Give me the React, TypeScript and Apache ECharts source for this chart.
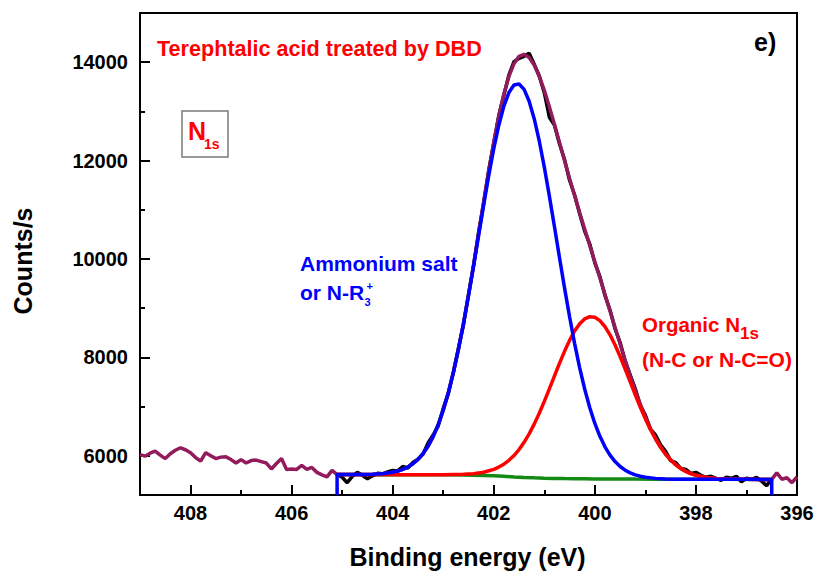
import { useEffect, useRef } from "react";
import * as echarts from "echarts";

// Tick values
const xMajorTicks = [396, 398, 400, 402, 404, 406, 408];
const xMinorTicks = [397, 399, 401, 403, 405, 407];
const yMajorTicks = [6000, 8000, 10000, 12000, 14000];
const yMinorTicks = [7000, 9000, 11000, 13000];

// Survey data outside the fitting window (wine coloured)
const surveyLeft: [number, number][] = [
  [409.0, 6020], [408.9, 5990], [408.8, 6050], [408.7, 6090], [408.6, 6010], [408.5, 5940],
  [408.4, 6040], [408.3, 6110], [408.2, 6160], [408.1, 6120], [408.0, 6060], [407.9, 5960],
  [407.8, 5890], [407.7, 6060], [407.6, 6000], [407.5, 5940], [407.4, 5970], [407.3, 5980],
  [407.2, 5920], [407.1, 5850], [407.0, 5920], [406.9, 5850], [406.8, 5900], [406.7, 5910],
  [406.6, 5880], [406.5, 5850], [406.4, 5730], [406.3, 5840], [406.2, 5940], [406.1, 5720],
  [406.0, 5730], [405.9, 5720], [405.8, 5800], [405.7, 5720], [405.6, 5760], [405.5, 5660],
  [405.4, 5610], [405.3, 5570], [405.2, 5700],
];
const surveyRight: [number, number][] = [
  [396.4, 5650], [396.3, 5520], [396.2, 5550], [396.1, 5450], [396.0, 5570],
];

// Cumulative fit envelope
const envelope: [number, number][] = [
  [405.1, 5615], [404.8, 5616], [404.6, 5617], [404.4, 5622], [404.2, 5634], [404.0, 5663],
  [403.9, 5687], [403.8, 5721], [403.7, 5769], [403.6, 5835], [403.5, 5924], [403.4, 6042],
  [403.3, 6193], [403.2, 6387], [403.1, 6629], [403.0, 6925], [402.9, 7277], [402.8, 7689],
  [402.7, 8162], [402.6, 8690], [402.5, 9266], [402.4, 9880], [402.3, 10517], [402.2, 11157],
  [402.1, 11783], [402.0, 12371], [401.9, 12901], [401.8, 13353], [401.7, 13714], [401.6, 13970],
  [401.5, 14119], [401.4, 14159], [401.3, 14097], [401.2, 13944], [401.1, 13715], [401.0, 13427],
  [400.9, 13096], [400.8, 12739], [400.7, 12370], [400.6, 12000], [400.5, 11637], [400.4, 11282],
  [400.3, 10938], [400.2, 10602], [400.1, 10270], [400.0, 9941], [399.9, 9611], [399.8, 9278],
  [399.7, 8942], [399.6, 8604], [399.5, 8270], [399.4, 7941], [399.3, 7624], [399.2, 7322],
  [399.1, 7041], [399.0, 6785], [398.9, 6555], [398.8, 6355], [398.7, 6181], [398.6, 6035],
  [398.5, 5915], [398.4, 5817], [398.3, 5740], [398.2, 5680], [398.1, 5635], [398.0, 5600],
  [397.8, 5557], [397.6, 5536], [397.4, 5525], [397.0, 5518], [396.5, 5517],
];

// Raw measured counts in the fitting window (black)
const rawCounts: [number, number][] = [
  [405.1, 5620], [405.0, 5560], [404.9, 5450], [404.8, 5580], [404.7, 5660], [404.6, 5600],
  [404.5, 5530], [404.4, 5590], [404.3, 5640], [404.2, 5630], [404.1, 5670], [404.0, 5700],
  [403.9, 5690], [403.8, 5780], [403.7, 5750], [403.6, 5860], [403.5, 5930], [403.4, 6030],
  [403.3, 6260], [403.2, 6420], [403.1, 6600], [403.0, 6960], [402.9, 7260], [402.8, 7700],
  [402.7, 8180], [402.6, 8660], [402.5, 9280], [402.4, 9860], [402.3, 10540], [402.2, 11140],
  [402.1, 11800], [402.0, 12360], [401.9, 12920], [401.8, 13330], [401.7, 13740], [401.6, 14010],
  [401.5, 14080], [401.4, 14120], [401.3, 14180], [401.2, 13960], [401.1, 13720], [401.0, 13380],
  [400.9, 12880], [400.8, 12720], [400.7, 12340], [400.6, 12020], [400.5, 11600], [400.4, 11300],
  [400.3, 10920], [400.2, 10560], [400.1, 10300], [400.0, 9920], [399.9, 9640], [399.8, 9260],
  [399.7, 8960], [399.6, 8580], [399.5, 8300], [399.4, 7920], [399.3, 7640], [399.2, 7360],
  [399.1, 7020], [399.0, 6820], [398.9, 6540], [398.8, 6420], [398.7, 6220], [398.6, 6090],
  [398.5, 5900], [398.4, 5860], [398.3, 5740], [398.2, 5720], [398.1, 5640], [398.0, 5660],
  [397.9, 5600], [397.8, 5560], [397.7, 5580], [397.6, 5540], [397.5, 5500], [397.4, 5560],
  [397.3, 5540], [397.2, 5580], [397.1, 5470], [397.0, 5540], [396.9, 5520], [396.8, 5560],
  [396.7, 5480], [396.6, 5390], [396.5, 5530],
];

// Ammonium salt component (blue), with drop lines at window ends
const ammoniumFit: [number, number][] = [
  [405.1, 5200], [405.1, 5615], [404.8, 5616], [404.6, 5617], [404.4, 5622], [404.2, 5634],
  [404.0, 5663], [403.9, 5687], [403.8, 5721], [403.7, 5769], [403.6, 5835], [403.5, 5924],
  [403.4, 6042], [403.3, 6193], [403.2, 6387], [403.1, 6628], [403.0, 6924], [402.9, 7274],
  [402.8, 7684], [402.7, 8154], [402.6, 8677], [402.5, 9246], [402.4, 9850], [402.3, 10472],
  [402.2, 11092], [402.1, 11690], [402.0, 12240], [401.9, 12719], [401.8, 13106], [401.7, 13383],
  [401.6, 13535], [401.5, 13557], [401.4, 13446], [401.3, 13207], [401.2, 12852], [401.1, 12398],
  [401.0, 11866], [400.9, 11278], [400.8, 10659], [400.7, 10030], [400.6, 9412], [400.5, 8825],
  [400.4, 8279], [400.3, 7786], [400.2, 7350], [400.1, 6973], [400.0, 6655], [399.9, 6393],
  [399.8, 6180], [399.7, 6011], [399.6, 5879], [399.5, 5779], [399.4, 5704], [399.3, 5649],
  [399.2, 5608], [399.1, 5580], [399.0, 5560], [398.8, 5538], [398.6, 5527], [398.4, 5522],
  [398.0, 5519], [397.6, 5519], [397.0, 5518], [396.5, 5517], [396.5, 5200],
];

// Organic N1s component (red)
const organicFit: [number, number][] = [
  [405.1, 5615], [404.0, 5614], [403.0, 5612], [402.6, 5621], [402.4, 5634], [402.2, 5663],
  [402.0, 5721], [401.9, 5767], [401.8, 5827], [401.7, 5905], [401.6, 6003], [401.5, 6125],
  [401.4, 6271], [401.3, 6443], [401.2, 6641], [401.1, 6862], [401.0, 7103], [400.9, 7357],
  [400.8, 7617], [400.7, 7875], [400.6, 8121], [400.5, 8344], [400.4, 8534], [400.3, 8682],
  [400.2, 8781], [400.1, 8825], [400.0, 8813], [399.9, 8745], [399.8, 8624], [399.7, 8457],
  [399.6, 8250], [399.5, 8016], [399.4, 7761], [399.3, 7499], [399.2, 7237], [399.1, 6984],
  [399.0, 6747], [398.9, 6531], [398.8, 6339], [398.7, 6171], [398.6, 6029], [398.5, 5911],
  [398.4, 5815], [398.3, 5739], [398.2, 5680], [398.1, 5635], [398.0, 5600], [397.8, 5557],
  [397.6, 5536], [397.4, 5525], [397.0, 5518], [396.5, 5517],
];

// Background (green)
const background: [number, number][] = [
  [405.1, 5615], [404.0, 5614], [403.0, 5612], [402.6, 5608], [402.4, 5604], [402.2, 5598],
  [402.0, 5590], [401.8, 5580], [401.6, 5568], [401.4, 5558], [401.2, 5549], [401.0, 5542],
  [400.8, 5537], [400.6, 5533], [400.4, 5531], [400.2, 5529], [400.0, 5527], [399.6, 5525],
  [399.2, 5523], [398.8, 5522], [398.4, 5520], [398.0, 5519], [397.4, 5518], [396.5, 5517],
];

const FONT = '"Liberation Sans", Arial, Helvetica, sans-serif';
const WINE = "#931a5b";

function txt(text: string, x: number, y: number, size: number, color: string, extra: any = {}) {
  return {
    type: "text",
    x,
    y,
    z: 100,
    ...extra,
    style: {
      text,
      fill: color,
      fontSize: size,
      fontWeight: "bold",
      fontFamily: FONT,
      align: extra.align || "left",
      verticalAlign: "middle",
    },
  };
}

export default function App() {
  const ref = useRef<HTMLDivElement>(null);
  useEffect(() => {
    const chart = echarts.init(ref.current!, null, { renderer: "svg" });
    const labelStyle = { fontSize: 20, fontWeight: "bold", color: "#000", fontFamily: FONT };
    const line = (data: any, color: string, z: number) => ({
      type: "line",
      data,
      showSymbol: false,
      symbol: "none",
      z,
      lineStyle: { color, width: 3.5 },
      itemStyle: { color },
      clip: true,
    });
    chart.setOption({
      animation: false,
      grid: {
        left: 140, right: 22, top: 13, bottom: 76,
        show: true, borderColor: "#000", borderWidth: 2,
        containLabel: false, outerBoundsMode: "none",
      },
      xAxis: [
        {
          type: "value", min: 396, max: 409, inverse: true, position: "bottom",
          axisLine: { show: true, onZero: false, lineStyle: { color: "#000", width: 2 } },
          axisTick: { show: true, inside: true, length: 10, customValues: xMajorTicks, lineStyle: { color: "#000", width: 2 } },
          axisLabel: { ...labelStyle, margin: 8, customValues: xMajorTicks, formatter: (v: number) => String(v) },
          splitLine: { show: false },
        },
        {
          type: "value", min: 396, max: 409, inverse: true, position: "bottom", offset: 0,
          axisLine: { show: false },
          axisTick: { show: true, inside: true, length: 5, customValues: xMinorTicks, lineStyle: { color: "#000", width: 2 } },
          axisLabel: { show: false },
          splitLine: { show: false },
        },
      ],
      yAxis: [
        {
          type: "value", min: 5200, max: 15000, position: "left",
          axisLine: { show: true, onZero: false, lineStyle: { color: "#000", width: 2 } },
          axisTick: { show: true, inside: true, length: 10, customValues: yMajorTicks, lineStyle: { color: "#000", width: 2 } },
          axisLabel: { ...labelStyle, margin: 12, customValues: yMajorTicks, formatter: (v: number) => String(v) },
          splitLine: { show: false },
        },
        {
          type: "value", min: 5200, max: 15000, position: "left", offset: 0,
          axisLine: { show: false },
          axisTick: { show: true, inside: true, length: 5, customValues: yMinorTicks, lineStyle: { color: "#000", width: 2 } },
          axisLabel: { show: false },
          splitLine: { show: false },
        },
      ],
      series: [
        line(background, "#138a13", 1),
        line(rawCounts, "#000000", 2),
        line([...surveyLeft, ...envelope, ...surveyRight], WINE, 3),
        line(organicFit, "#ff0000", 4),
        line(ammoniumFit, "#0000ff", 5),
      ],
      graphic: [
        {
          type: "rect", z: 90,
          shape: { x: 182, y: 111, width: 46, height: 46 },
          style: { fill: "#ffffff", stroke: "#7a7a7a", lineWidth: 1.5 },
        },
        txt("Terephtalic acid treated by DBD", 157, 48, 21.6, "#ff0000"),
        txt("e)", 754, 42, 25, "#000000"),
        txt("N", 188, 130.5, 25, "#ff0000"),
        txt("1s", 204, 144, 14, "#ff0000"),
        txt("Ammonium salt", 300, 263, 21, "#0000ff"),
        txt("or N-R", 300, 292, 21, "#0000ff"),
        txt("3", 364.5, 302, 11, "#0000ff"),
        txt("+", 366.5, 286, 11, "#0000ff"),
        txt("Organic N", 642, 324, 20.5, "#ff0000"),
        txt("1s", 740, 333, 17, "#ff0000"),
        txt("(N-C or N-C=O)", 642, 359, 21, "#ff0000"),
        txt("Counts/s", 22.5, 261, 25, "#000000", { rotation: Math.PI / 2, align: "center" }),
        txt("Binding energy (eV)", 467.5, 556.5, 25, "#000000", { align: "center" }),
      ],
    });
    return () => chart.dispose();
  }, []);
  return (
    <div
      ref={ref}
      style={{ position: "fixed", left: 0, top: 0, width: 819, height: 571, background: "#ffffff" }}
    />
  );
}
